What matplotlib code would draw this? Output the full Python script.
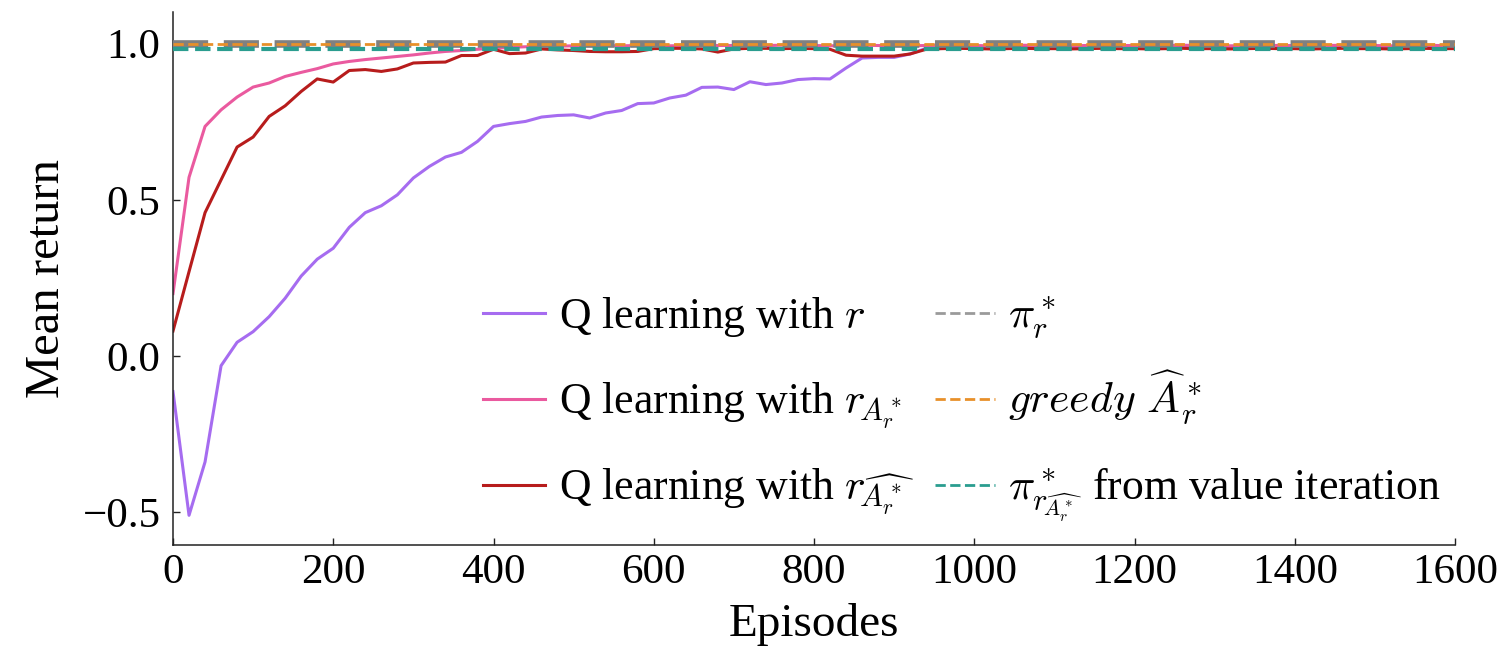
import matplotlib
matplotlib.use("Agg")
import matplotlib.pyplot as plt
from matplotlib.lines import Line2D

plt.rcParams['font.family'] = ['Liberation Serif', 'DejaVu Serif']
plt.rcParams['mathtext.fontset'] = 'cm'

episodes = list(range(0, 1601, 20))

q_r = [-0.114, -0.51, -0.339, -0.031, 0.044, 0.078, 0.126, 0.185, 0.256, 0.31,
       0.345, 0.412, 0.459, 0.481, 0.516, 0.57, 0.607, 0.637, 0.652, 0.687,
       0.735, 0.744, 0.751, 0.765, 0.77, 0.772, 0.762, 0.778, 0.786, 0.808,
       0.81, 0.826, 0.835, 0.86, 0.861, 0.853, 0.878, 0.869, 0.874, 0.885,
       0.888, 0.887, 0.922, 0.954, 0.956, 0.956, 0.967, 0.985,
       0.988, 0.99, 0.987, 0.989, 0.99, 0.988, 0.987, 0.99, 0.989, 0.988,
       0.99, 0.989, 0.987, 0.988, 0.99, 0.989, 0.988, 0.987, 0.99, 0.989,
       0.988, 0.99, 0.989, 0.987, 0.988, 0.99, 0.989, 0.988, 0.99, 0.989,
       0.988, 0.987, 0.989]

q_rA = [0.2, 0.572, 0.735, 0.788, 0.829, 0.861, 0.874, 0.895, 0.908, 0.92,
        0.935, 0.943, 0.949, 0.954, 0.959, 0.964, 0.97, 0.975, 0.978, 0.982,
        0.985, 0.988, 0.99, 0.991, 0.992, 0.993, 0.993, 0.994, 0.993, 0.994,
        0.994, 0.993, 0.994, 0.995, 0.994, 0.994, 0.993, 0.994, 0.995, 0.994,
        0.994, 0.993, 0.994, 0.995, 0.994, 0.994, 0.993, 0.994, 0.995, 0.994,
        0.994, 0.993, 0.994, 0.995, 0.994, 0.994, 0.993, 0.994, 0.995, 0.994,
        0.994, 0.993, 0.994, 0.995, 0.994, 0.994, 0.993, 0.994, 0.995, 0.994,
        0.994, 0.993, 0.994, 0.995, 0.994, 0.994, 0.993, 0.994, 0.995, 0.994,
        0.994]

q_rAhat = [0.08, 0.27, 0.459, 0.564, 0.669, 0.701, 0.767, 0.801, 0.847, 0.887,
           0.877, 0.914, 0.917, 0.911, 0.919, 0.938, 0.94, 0.941, 0.962, 0.962,
           0.982, 0.968, 0.97, 0.983, 0.98, 0.978, 0.975, 0.974, 0.974, 0.975,
           0.984, 0.985, 0.985, 0.983, 0.973, 0.983, 0.985, 0.985, 0.984, 0.985,
           0.984, 0.982, 0.963, 0.96, 0.96, 0.96, 0.967, 0.982,
           0.984, 0.985, 0.984, 0.983, 0.984, 0.985, 0.984, 0.984, 0.983, 0.984,
           0.985, 0.984, 0.984, 0.983, 0.984, 0.985, 0.984, 0.984, 0.983, 0.984,
           0.985, 0.984, 0.984, 0.983, 0.984, 0.985, 0.984, 0.984, 0.983, 0.984,
           0.985, 0.984, 0.984]

pi_r = 1.0
greedy_A = 1.0
pi_vi = 0.983

labels = [r'Q learning with $r$',
          r'Q learning with $r_{\!A^*_r}$',
          r'Q learning with $r_{\!\widehat{A^*_r}}$',
          r'$\pi^*_r$',
          r'$greedy\ \widehat{A}^*_r$',
          r'$\pi^*_{r_{\!\widehat{A^*_r}}}$ from value iteration']

c_purple = '#a66cf0'
c_pink = '#ea5a9f'
c_red = '#b71c1c'
c_gray = '#808080'
c_gray_leg = '#9a9a9a'
c_orange = '#e8902a'
c_teal = '#2a9d8f'

W, H = 1505, 647
fig = plt.figure(figsize=(W / 100, H / 100), dpi=100)
ax = fig.add_axes([173/W, 1-545/H, (1455-173)/W, (545-12.4)/H])

ax.plot(episodes, q_r, color=c_purple, lw=2.2, zorder=2)
ax.plot(episodes, q_rA, color=c_pink, lw=2.2, zorder=2)
ax.plot(episodes, q_rAhat, color=c_red, lw=2.2, zorder=2)
ax.axhline(pi_r, color=c_gray, lw=5.5, dashes=(4.6, 2.05), zorder=3)
ax.axhline(pi_vi, color=c_teal, lw=3, dashes=(3.7, 1.6), zorder=4)
ax.axhline(greedy_A, color=c_orange, lw=2, dashes=(3.7, 1.6), zorder=5)

ax.set_xlim(0, 1600)
ax.set_ylim(-0.605, 1.1)
ax.set_xticks([0, 200, 400, 600, 800, 1000, 1200, 1400, 1600])
ax.set_yticks([-0.5, 0.0, 0.5, 1.0])
ax.set_yticklabels(['\u22120.5', '0.0', '0.5', '1.0'])
ax.spines['top'].set_visible(False)
ax.spines['right'].set_visible(False)
for s in ('left', 'bottom'):
    ax.spines[s].set_linewidth(1.1)
    ax.spines[s].set_color('#222222')
ax.tick_params(direction='in', length=5, width=1, labelsize=31, colors='#222222',
               labelcolor='black')
ax.tick_params(axis='y', pad=9)
ax.tick_params(axis='x', pad=6)
ax.set_xlabel('Episodes', fontsize=34, labelpad=8)
ax.set_ylabel('Mean return', fontsize=35, labelpad=10)

# legend drawn as handles + texts, aligned in a 3x2 grid
leg_fs = 31.5
handles = [(c_purple, '-'), (c_pink, '-'), (c_red, '-'),
           (c_gray_leg, '--'), (c_orange, '--'), (c_teal, '--')]
row_y = [313, 399, 485]
col_x = [(483, 545, 559), (935, 995, 1008)]
for i, ((col, ls), lab) in enumerate(zip(handles, labels)):
    c = i // 3
    r = i % 3
    x0, x1, xt = col_x[c]
    yh = row_y[r]
    fig.add_artist(Line2D([x0 / W, x1 / W], [1 - yh / H, 1 - yh / H],
                          transform=fig.transFigure, color=col, lw=2.2 if ls == '-' else 2.0,
                          ls=ls))
    fig.text(xt / W, 1 - (yh + 15) / H, lab, fontsize=leg_fs, ha='left', va='baseline')

fig.savefig('out.png', dpi=100)
